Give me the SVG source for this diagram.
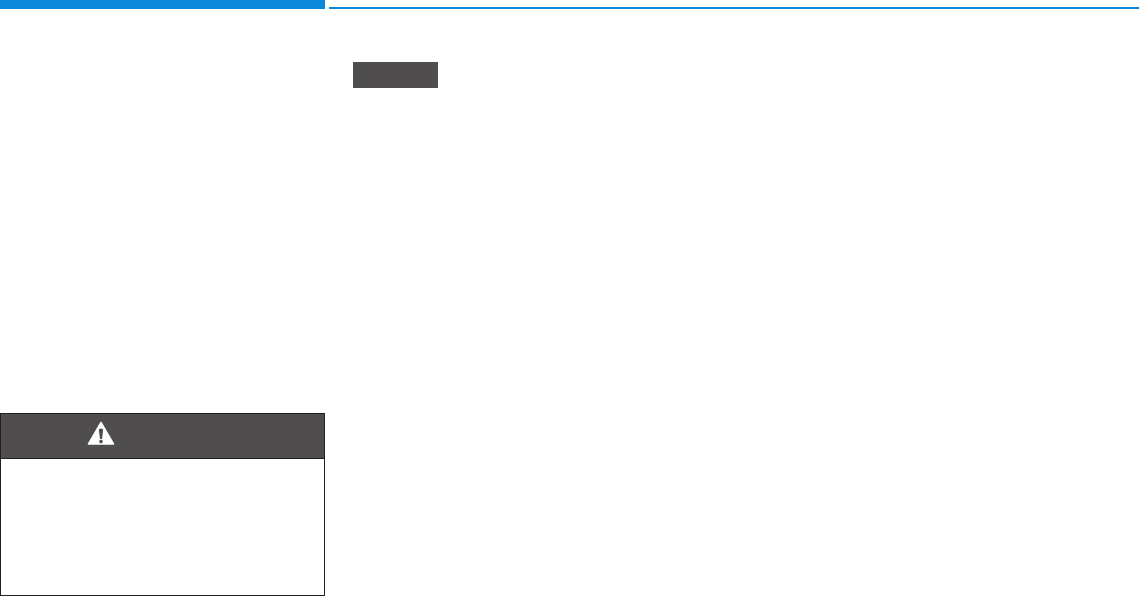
<svg xmlns="http://www.w3.org/2000/svg" width="1140" height="596" viewBox="0 0 1140 596">
<style>
.blue{fill:#0b8ad9}
.dark{fill:#4f4d4e}
.edge{fill:none;stroke:#231f20;stroke-width:1}
</style>
<rect width="1140" height="596" fill="#fff"/>
<g id="header-bar-left"><rect class="blue" x="0" y="0" width="325" height="9"/></g>
<g id="header-bar-right"><rect class="blue" x="329" y="7" width="810" height="2"/></g>
<g id="label-box"><rect class="dark" x="353" y="62" width="85" height="26"/></g>
<g id="warning-box">
<rect x="0.5" y="413.5" width="324" height="182" fill="#fff"/>
<rect class="dark" x="0.5" y="413.5" width="324" height="45"/>
<rect class="edge" x="0.5" y="413.5" width="324" height="45"/>
<rect class="edge" x="0.5" y="413.5" width="324" height="182"/>
<path d="M101 422.500 L113.500 444 L88.500 444 Z" fill="#fff" stroke="#fff" stroke-width="1.500" stroke-linejoin="round"/>
<path d="M98.800 429.500 Q101 427.500 103.200 429.500 L102 439 L100 439 Z" class="dark"/>
<circle cx="101" cy="441.600" r="1.800" class="dark"/>
</g>
<g id="connectors"/>
</svg>
